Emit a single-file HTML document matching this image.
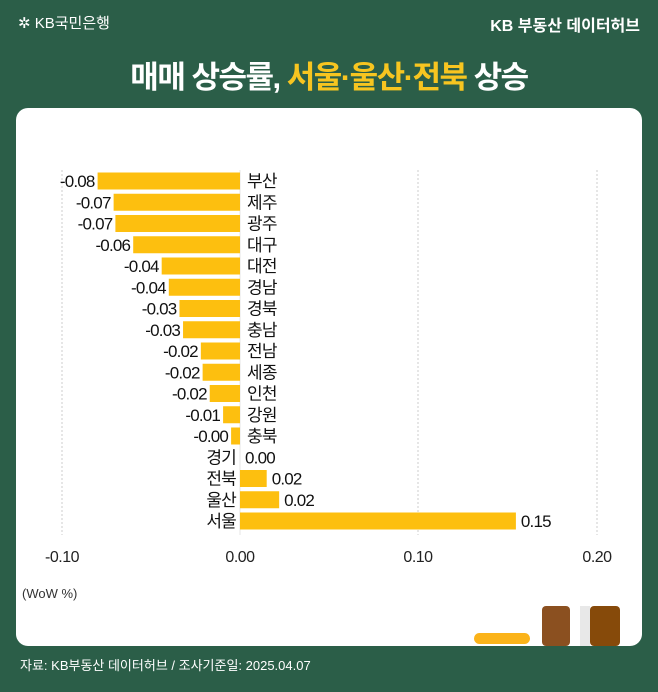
<!DOCTYPE html>
<html><head><meta charset="utf-8"><style>
body{margin:0;width:658px;height:692px;background:#2b5e48;font-family:"Liberation Sans","Noto Sans CJK KR",sans-serif;position:relative;overflow:hidden}
.t{position:absolute;white-space:nowrap}
</style></head><body>
<div class="t" style="left:18px;top:12px;color:#fff;font-size:15px">✲ KB국민은행</div>
<div class="t" style="right:18px;top:12px;color:#fff;font-size:16px;font-weight:bold">KB 부동산 데이터허브</div>
<div class="t" style="left:0;width:658px;text-align:center;top:52px;color:#fff;font-size:31px;font-weight:bold;letter-spacing:-1.5px">매매 상승률, <span style="color:#f7c520">서울·울산·전북</span> 상승</div>
<div style="position:absolute;left:16px;top:108px;width:626px;height:538px;background:#fff;border-radius:12px"></div>
<svg style="position:absolute;left:0;top:0" width="658" height="692" font-family="Liberation Sans, Noto Sans CJK KR, sans-serif">
<g stroke="#ccc" stroke-dasharray="2,2" stroke-width="1">
<line x1="62" y1="170" x2="62" y2="535"/><line x1="418" y1="170" x2="418" y2="535"/><line x1="597" y1="170" x2="597" y2="535"/>
</g>
<line x1="240" y1="170" x2="240" y2="535" stroke="#e6e6e6" stroke-width="1"/>
<g font-size="16" fill="#222" text-anchor="middle" letter-spacing="-0.5">
<text x="62" y="562">-0.10</text><text x="240" y="562">0.00</text><text x="418" y="562">0.10</text><text x="597" y="562">0.20</text>
</g>
<text x="22" y="598" font-size="13" fill="#333">(WoW %)</text>
<g id="bars" font-size="17" fill="#111" letter-spacing="-0.8"></g>
<rect x="474" y="633" width="56" height="11" rx="5.5" fill="#fbb31a"/>
<rect x="542" y="606" width="28" height="40" rx="4" fill="#8b5020"/>
<rect x="580" y="606" width="10" height="40" fill="#e8e8e8"/>
<rect x="590" y="606" width="30" height="40" rx="4" fill="#864a0a"/>
</svg>
<div class="t" style="left:20px;top:655px;color:#fff;font-size:13px">자료: KB부동산 데이터허브 / 조사기준일: 2025.04.07</div>
<script>
var d=[["부산",-0.08,"-0.08"],["제주",-0.071,"-0.07"],["광주",-0.07,"-0.07"],["대구",-0.06,"-0.06"],["대전",-0.044,"-0.04"],["경남",-0.040,"-0.04"],["경북",-0.034,"-0.03"],["충남",-0.032,"-0.03"],["전남",-0.022,"-0.02"],["세종",-0.021,"-0.02"],["인천",-0.017,"-0.02"],["강원",-0.0095,"-0.01"],["충북",-0.005,"-0.00"],["경기",0,"0.00"],["전북",0.015,"0.02"],["울산",0.022,"0.02"],["서울",0.155,"0.15"]];
var g=document.getElementById('bars'),s='';
d.forEach(function(r,i){var y=181+i*21.25,x0=240,w=Math.abs(r[1])*1780;
if(r[1]<0){s+='<rect x="'+(x0-w)+'" y="'+(y-8.5)+'" width="'+w+'" height="17" fill="#fdbf0f"/>';
s+='<text x="'+(x0-w-3)+'" y="'+(y+6)+'" text-anchor="end">'+r[2]+'</text>';
s+='<text x="247" y="'+(y+6)+'">'+r[0]+'</text>';}
else{s+='<rect x="'+x0+'" y="'+(y-8.5)+'" width="'+w+'" height="17" fill="#fdbf0f"/>';
s+='<text x="'+(x0-4)+'" y="'+(y+6)+'" text-anchor="end">'+r[0]+'</text>';
s+='<text x="'+(x0+w+5)+'" y="'+(y+6)+'">'+r[2]+'</text>';}});
g.innerHTML=s;
</script>
</body></html>
